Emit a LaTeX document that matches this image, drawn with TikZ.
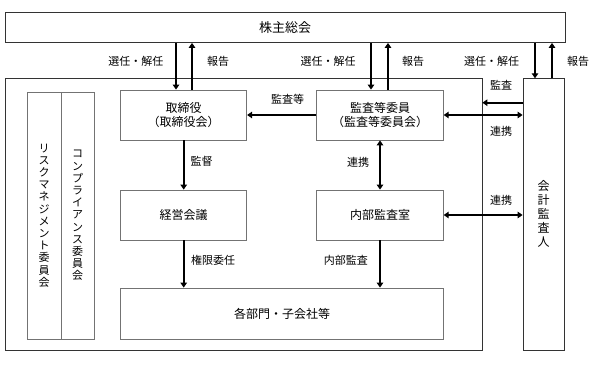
\documentclass[tikz,border=0pt]{standalone}
\usepackage{fontspec}
\setmainfont{Noto Sans CJK JP}
\usetikzlibrary{arrows.meta}
\begin{document}
\begin{tikzpicture}[x=1pt,y=-1pt,
  box/.style={draw=black!55,line width=0.8pt,rectangle,inner sep=0pt,align=center,font=\fontsize{12}{14}\selectfont},
  bigbox/.style={draw=black!80,line width=0.8pt,rectangle,inner sep=0pt},
  arr/.style={line width=1.6pt,-{Triangle[length=5pt,width=6.5pt]}},
  darr/.style={line width=1.6pt,{Triangle[length=5pt,width=6.5pt]}-{Triangle[length=5pt,width=6.5pt]}},
  lbl/.style={font=\fontsize{11}{13}\selectfont,inner sep=0pt},
  vtxt/.style={align=center,inner sep=0pt,font=\fontsize{11}{12.2}\selectfont}
]
\useasboundingbox (0,0) rectangle (599,364);
% boxes
\node[bigbox,minimum width=560pt,minimum height=30pt,font=\fontsize{13}{15}\selectfont] (top) at (285,27.5) {株主総会};
\node[bigbox,minimum width=477pt,minimum height=271.3pt] (outer) at (243.5,214.35) {};
\node[bigbox,minimum width=41pt,minimum height=271.3pt] (aud) at (543.5,214.35) {};
\node[vtxt,font=\fontsize{12}{14}\selectfont] (audt) at (aud.center) {会\\計\\監\\査\\人};
\node[box,minimum width=34pt,minimum height=247pt] (risk) at (44,215.5) {};
\node[box,minimum width=33pt,minimum height=247pt] (comp) at (77.5,215.5) {};
\node[vtxt] (riskt) at (risk.center) {リ\\ス\\ク\\マ\\ネ\\ジ\\メ\\ン\\ト\\委\\員\\会};
\node[vtxt] (compt) at (comp.center) {コ\\ン\\プ\\ラ\\イ\\ア\\ン\\ス\\委\\員\\会};
\node[box,minimum width=126pt,minimum height=50pt] (tori) at (183.7,115) {取締役\\（取締役会）};
\node[box,minimum width=126.6pt,minimum height=50pt] (kansa) at (380,115) {監査等委員\\（監査等委員会）};
\node[box,minimum width=126pt,minimum height=50pt] (keiei) at (183.7,215) {経営会議};
\node[box,minimum width=126.6pt,minimum height=50pt] (naibu) at (380,215) {内部監査室};
\node[box,minimum width=322.6pt,minimum height=51pt] (kaku) at (282,313.5) {各部門・子会社等};
% arrows top
\draw[arr] (top.south -| 176,0) -- (tori.north -| 176,0);
\draw[arr] (tori.north -| 192,0) -- (top.south -| 192,0);
\draw[arr] (top.south -| 371,0) -- (kansa.north -| 371,0);
\draw[arr] (kansa.north -| 388,0) -- (top.south -| 388,0);
\draw[arr] (top.south -| 535,0) -- (aud.north -| 535,0);
\draw[arr] (aud.north -| 552,0) -- (top.south -| 552,0);
% inner arrows
\draw[arr] (kansa.west) -- (tori.east);
\draw[arr] (tori.south) -- (keiei.north);
\draw[darr] (kansa.south) -- (naibu.north);
\draw[arr] (keiei.south) -- (kaku.north -| keiei.south);
\draw[arr] (naibu.south) -- (kaku.north -| naibu.south);
\draw[darr] (kansa.east) -- (aud.west |- kansa.east);
\draw[darr] (naibu.east) -- (aud.west |- naibu.east);
\coordinate (ka) at (outer.east |- 0,102.7);
\draw[arr] (aud.west |- ka) -- (ka);
% labels
\node[lbl] (l1) at (135.8,61) {選任・解任};
\node[lbl] (l2) at (218,61) {報告};
\node[lbl] (l3) at (328,61) {選任・解任};
\node[lbl] (l4) at (413,61) {報告};
\node[lbl] (l5) at (491.7,61) {選任・解任};
\node[lbl] (l6) at (578,61) {報告};
\node[lbl] (l7) at (287.5,99) {監査等};
\node[lbl] (l8) at (501,85) {監査};
\node[lbl] (l9) at (501,131) {連携};
\node[lbl] (l10) at (501,200) {連携};
\node[lbl] (l11) at (201.7,161.7) {監督};
\node[lbl] (l12) at (358,162) {連携};
\node[lbl] (l13) at (213,260) {権限委任};
\node[lbl] (l14) at (345.8,260) {内部監査};
\end{tikzpicture}
\end{document}
